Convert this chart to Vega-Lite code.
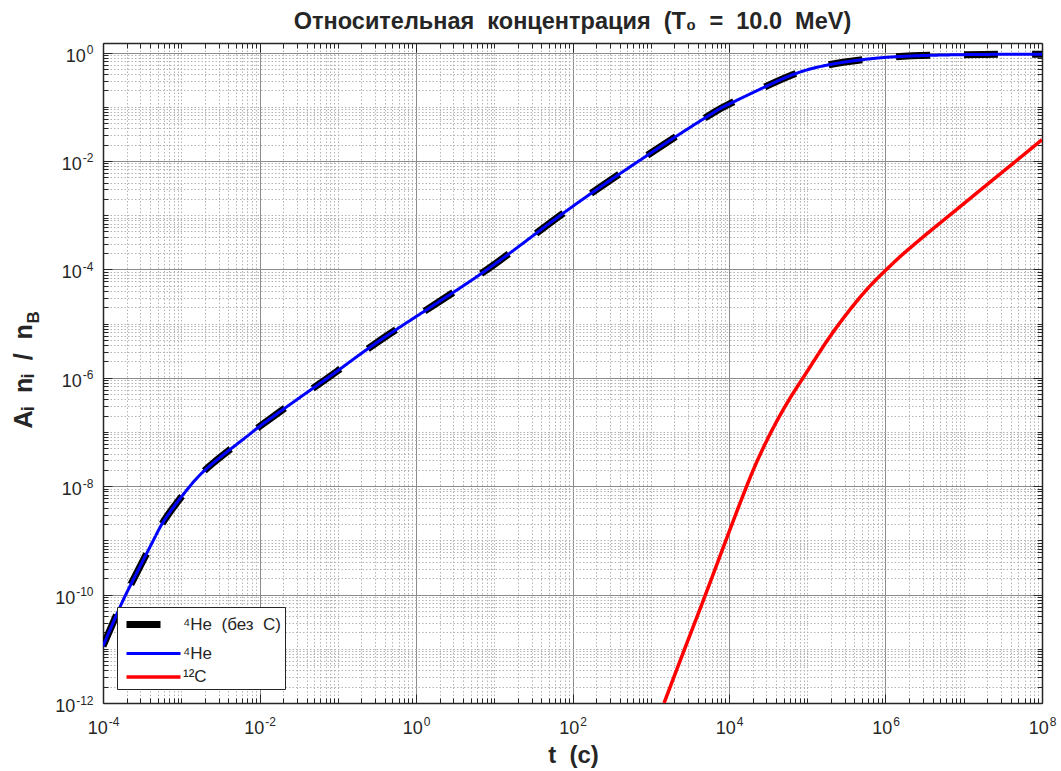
{
  "$schema": "https://vega.github.io/schema/vega-lite/v6.json",
  "width": 939,
  "height": 660,
  "autosize": {"type": "none"},
  "padding": {"left": 103, "top": 43, "right": 19, "bottom": 68},
  "title": {"text": "Относительная\u00a0\u00a0концентрация\u00a0\u00a0(T₀\u00a0\u00a0=\u00a0\u00a010.0\u00a0\u00a0MeV)", "fontSize": 23.5, "fontWeight": "bold", "font": "Liberation Sans", "color": "#262626", "anchor": "middle", "offset": 9},
  "data": {"values": [
    {"s": "⁴He (без C)", "t": 1e-4, "y": 1.12e-11},
    {"s": "⁴He (без C)", "t": 1.66e-4, "y": 6.03e-11},
    {"s": "⁴He (без C)", "t": 2.45e-4, "y": 1.91e-10},
    {"s": "⁴He (без C)", "t": 4.47e-4, "y": 1.05e-9},
    {"s": "⁴He (без C)", "t": 6.61e-4, "y": 2.82e-9},
    {"s": "⁴He (без C)", "t": 1.29e-3, "y": 1.0e-8},
    {"s": "⁴He (без C)", "t": 2.57e-3, "y": 2.69e-8},
    {"s": "⁴He (без C)", "t": 6.92e-3, "y": 8.32e-8},
    {"s": "⁴He (без C)", "t": 1.02e-2, "y": 1.29e-7},
    {"s": "⁴He (без C)", "t": 3.31e-2, "y": 4.37e-7},
    {"s": "⁴He (без C)", "t": 0.1, "y": 1.35e-6},
    {"s": "⁴He (без C)", "t": 0.316, "y": 4.47e-6},
    {"s": "⁴He (без C)", "t": 1.86, "y": 2.40e-5},
    {"s": "⁴He (без C)", "t": 10.7, "y": 1.32e-4},
    {"s": "⁴He (без C)", "t": 63.1, "y": 8.91e-4},
    {"s": "⁴He (без C)", "t": 363, "y": 5.25e-3},
    {"s": "⁴He (без C)", "t": 2140, "y": 0.0288},
    {"s": "⁴He (без C)", "t": 6310, "y": 0.0776},
    {"s": "⁴He (без C)", "t": 10000, "y": 0.112},
    {"s": "⁴He (без C)", "t": 30200, "y": 0.240},
    {"s": "⁴He (без C)", "t": 89100, "y": 0.457},
    {"s": "⁴He (без C)", "t": 288000, "y": 0.661},
    {"s": "⁴He (без C)", "t": 1000000, "y": 0.813},
    {"s": "⁴He (без C)", "t": 3980000, "y": 0.891},
    {"s": "⁴He (без C)", "t": 17800000, "y": 0.923},
    {"s": "⁴He (без C)", "t": 100000000, "y": 0.933},
    {"s": "⁴He", "t": 1e-4, "y": 1.12e-11},
    {"s": "⁴He", "t": 1.66e-4, "y": 6.03e-11},
    {"s": "⁴He", "t": 2.45e-4, "y": 1.91e-10},
    {"s": "⁴He", "t": 4.47e-4, "y": 1.05e-9},
    {"s": "⁴He", "t": 6.61e-4, "y": 2.82e-9},
    {"s": "⁴He", "t": 1.29e-3, "y": 1.0e-8},
    {"s": "⁴He", "t": 2.57e-3, "y": 2.69e-8},
    {"s": "⁴He", "t": 6.92e-3, "y": 8.32e-8},
    {"s": "⁴He", "t": 1.02e-2, "y": 1.29e-7},
    {"s": "⁴He", "t": 3.31e-2, "y": 4.37e-7},
    {"s": "⁴He", "t": 0.1, "y": 1.35e-6},
    {"s": "⁴He", "t": 0.316, "y": 4.47e-6},
    {"s": "⁴He", "t": 1.86, "y": 2.40e-5},
    {"s": "⁴He", "t": 10.7, "y": 1.32e-4},
    {"s": "⁴He", "t": 63.1, "y": 8.91e-4},
    {"s": "⁴He", "t": 363, "y": 5.25e-3},
    {"s": "⁴He", "t": 2140, "y": 0.0288},
    {"s": "⁴He", "t": 6310, "y": 0.0776},
    {"s": "⁴He", "t": 10000, "y": 0.112},
    {"s": "⁴He", "t": 30200, "y": 0.240},
    {"s": "⁴He", "t": 89100, "y": 0.457},
    {"s": "⁴He", "t": 288000, "y": 0.661},
    {"s": "⁴He", "t": 1000000, "y": 0.813},
    {"s": "⁴He", "t": 3980000, "y": 0.891},
    {"s": "⁴He", "t": 17800000, "y": 0.923},
    {"s": "⁴He", "t": 100000000, "y": 0.933},
    {"s": "¹²C", "t": 1480, "y": 1e-12},
    {"s": "¹²C", "t": 2750, "y": 1.05e-11},
    {"s": "¹²C", "t": 5010, "y": 1e-10},
    {"s": "¹²C", "t": 9120, "y": 1e-9},
    {"s": "¹²C", "t": 16600, "y": 9.55e-9},
    {"s": "¹²C", "t": 25100, "y": 3.89e-8},
    {"s": "¹²C", "t": 39800, "y": 1.48e-7},
    {"s": "¹²C", "t": 63100, "y": 4.68e-7},
    {"s": "¹²C", "t": 91200, "y": 1.07e-6},
    {"s": "¹²C", "t": 158000, "y": 3.67e-6},
    {"s": "¹²C", "t": 251000, "y": 9.55e-6},
    {"s": "¹²C", "t": 398000, "y": 2.26e-5},
    {"s": "¹²C", "t": 631000, "y": 4.90e-5},
    {"s": "¹²C", "t": 1000000, "y": 9.55e-5},
    {"s": "¹²C", "t": 1580000, "y": 1.78e-4},
    {"s": "¹²C", "t": 2510000, "y": 3.16e-4},
    {"s": "¹²C", "t": 3980000, "y": 5.50e-4},
    {"s": "¹²C", "t": 10000000, "y": 1.63e-3},
    {"s": "¹²C", "t": 25100000, "y": 4.83e-3},
    {"s": "¹²C", "t": 49000000, "y": 1.06e-2},
    {"s": "¹²C", "t": 100000000, "y": 0.0247}
  ]},
  "layer": [
    {
      "mark": {"type": "point", "opacity": 0},
      "encoding": {
        "x": {"field": "t", "type": "quantitative", "scale": {"type": "log", "domain": [1e-4, 1e8], "nice": false}, "axis": {"orient": "bottom", "title": null, "labels": false, "domain": false, "grid": true, "gridColor": "#b4b4b4", "gridDash": [1.5, 2], "gridWidth": 1, "ticks": true, "tickSize": -5, "tickColor": "#262626", "tickWidth": 1,
          "values": [2e-4,3e-4,4e-4,5e-4,6e-4,7e-4,8e-4,9e-4,1e-3,2e-3,3e-3,4e-3,5e-3,6e-3,7e-3,8e-3,9e-3,2e-2,3e-2,4e-2,5e-2,6e-2,7e-2,8e-2,9e-2,0.1,0.2,0.3,0.4,0.5,0.6,0.7,0.8,0.9,2,3,4,5,6,7,8,9,10,20,30,40,50,60,70,80,90,200,300,400,500,600,700,800,900,1000,2000,3000,4000,5000,6000,7000,8000,9000,20000,30000,40000,50000,60000,70000,80000,90000,100000,200000,300000,400000,500000,600000,700000,800000,900000,2e6,3e6,4e6,5e6,6e6,7e6,8e6,9e6,1e7,2e7,3e7,4e7,5e7,6e7,7e7,8e7,9e7]}},
        "y": {"field": "y", "type": "quantitative", "scale": {"type": "log", "domain": [1e-12, 1.5], "nice": false}, "axis": {"orient": "left", "title": null, "labels": false, "domain": false, "grid": true, "gridColor": "#b4b4b4", "gridDash": [1.5, 2], "gridWidth": 1, "ticks": true, "tickSize": -5, "tickColor": "#262626", "tickWidth": 1,
          "values": [2e-12,3e-12,4e-12,5e-12,6e-12,7e-12,8e-12,9e-12,1e-11,2e-11,3e-11,4e-11,5e-11,6e-11,7e-11,8e-11,9e-11,2e-10,3e-10,4e-10,5e-10,6e-10,7e-10,8e-10,9e-10,1e-9,2e-9,3e-9,4e-9,5e-9,6e-9,7e-9,8e-9,9e-9,2e-8,3e-8,4e-8,5e-8,6e-8,7e-8,8e-8,9e-8,1e-7,2e-7,3e-7,4e-7,5e-7,6e-7,7e-7,8e-7,9e-7,2e-6,3e-6,4e-6,5e-6,6e-6,7e-6,8e-6,9e-6,1e-5,2e-5,3e-5,4e-5,5e-5,6e-5,7e-5,8e-5,9e-5,2e-4,3e-4,4e-4,5e-4,6e-4,7e-4,8e-4,9e-4,1e-3,2e-3,3e-3,4e-3,5e-3,6e-3,7e-3,8e-3,9e-3,2e-2,3e-2,4e-2,5e-2,6e-2,7e-2,8e-2,9e-2,0.1,0.2,0.3,0.4,0.5,0.6,0.7,0.8,0.9]}}
      }
    },
    {
      "mark": {"type": "point", "opacity": 0},
      "encoding": {
        "x": {"field": "t", "type": "quantitative", "axis": {"orient": "top", "title": null, "labels": false, "domain": false, "grid": false, "ticks": true, "tickSize": -5, "tickColor": "#262626", "tickWidth": 1,
          "values": [2e-4,3e-4,4e-4,5e-4,6e-4,7e-4,8e-4,9e-4,1e-3,2e-3,3e-3,4e-3,5e-3,6e-3,7e-3,8e-3,9e-3,2e-2,3e-2,4e-2,5e-2,6e-2,7e-2,8e-2,9e-2,0.1,0.2,0.3,0.4,0.5,0.6,0.7,0.8,0.9,2,3,4,5,6,7,8,9,10,20,30,40,50,60,70,80,90,200,300,400,500,600,700,800,900,1000,2000,3000,4000,5000,6000,7000,8000,9000,20000,30000,40000,50000,60000,70000,80000,90000,100000,200000,300000,400000,500000,600000,700000,800000,900000,2e6,3e6,4e6,5e6,6e6,7e6,8e6,9e6,1e7,2e7,3e7,4e7,5e7,6e7,7e7,8e7,9e7]}},
        "y": {"field": "y", "type": "quantitative", "axis": {"orient": "right", "title": null, "labels": false, "domain": false, "grid": false, "ticks": true, "tickSize": -5, "tickColor": "#262626", "tickWidth": 1,
          "values": [2e-12,3e-12,4e-12,5e-12,6e-12,7e-12,8e-12,9e-12,1e-11,2e-11,3e-11,4e-11,5e-11,6e-11,7e-11,8e-11,9e-11,2e-10,3e-10,4e-10,5e-10,6e-10,7e-10,8e-10,9e-10,1e-9,2e-9,3e-9,4e-9,5e-9,6e-9,7e-9,8e-9,9e-9,2e-8,3e-8,4e-8,5e-8,6e-8,7e-8,8e-8,9e-8,1e-7,2e-7,3e-7,4e-7,5e-7,6e-7,7e-7,8e-7,9e-7,2e-6,3e-6,4e-6,5e-6,6e-6,7e-6,8e-6,9e-6,1e-5,2e-5,3e-5,4e-5,5e-5,6e-5,7e-5,8e-5,9e-5,2e-4,3e-4,4e-4,5e-4,6e-4,7e-4,8e-4,9e-4,1e-3,2e-3,3e-3,4e-3,5e-3,6e-3,7e-3,8e-3,9e-3,2e-2,3e-2,4e-2,5e-2,6e-2,7e-2,8e-2,9e-2,0.1,0.2,0.3,0.4,0.5,0.6,0.7,0.8,0.9]}}
      }
    },
    {
      "mark": {"type": "point", "opacity": 0},
      "encoding": {
        "x": {"field": "t", "type": "quantitative", "axis": {"orient": "bottom", "title": null, "labels": false, "domain": false, "grid": true, "gridColor": "#8c8c8c", "gridWidth": 1, "ticks": true, "tickSize": -9, "tickColor": "#262626", "tickWidth": 1, "values": [1e-4, 1e-2, 1, 100, 1e4, 1e6, 1e8]}},
        "y": {"field": "y", "type": "quantitative", "axis": {"orient": "left", "title": null, "labels": false, "domain": false, "grid": true, "gridColor": "#8c8c8c", "gridWidth": 1, "ticks": true, "tickSize": -9, "tickColor": "#262626", "tickWidth": 1, "values": [1e-12, 1e-10, 1e-8, 1e-6, 1e-4, 1e-2, 1]}}
      }
    },
    {
      "mark": {"type": "point", "opacity": 0},
      "encoding": {
        "x": {"field": "t", "type": "quantitative", "axis": {"orient": "top", "title": null, "labels": false, "domain": true, "domainColor": "#262626", "domainWidth": 1.5, "grid": false, "ticks": true, "tickSize": -9, "tickColor": "#262626", "tickWidth": 1, "values": [1e-4, 1e-2, 1, 100, 1e4, 1e6, 1e8]}},
        "y": {"field": "y", "type": "quantitative", "axis": {"orient": "right", "title": null, "labels": false, "domain": true, "domainColor": "#262626", "domainWidth": 1.5, "grid": false, "ticks": true, "tickSize": -9, "tickColor": "#262626", "tickWidth": 1, "values": [1e-12, 1e-10, 1e-8, 1e-6, 1e-4, 1e-2, 1]}}
      }
    },
    {
      "mark": {"type": "point", "opacity": 0},
      "encoding": {
        "x": {"field": "t", "type": "quantitative", "axis": {"orient": "bottom", "grid": false, "ticks": false, "domain": true, "domainColor": "#262626", "domainWidth": 1.5, "values": [1e-4, 1e-2, 1, 100, 1e4, 1e6, 1e8],
          "labelExpr": "'10'", "labelFont": "Liberation Sans", "labelFontSize": 18, "labelColor": "#262626", "labelPadding": 30, "labelBaseline": "alphabetic", "labelAlign": "center", "labelFlush": false, "labelOverlap": false,
          "labelOffset": {"condition": {"test": "datum.value < 0.5", "value": -5.85}, "value": -3.85},
          "title": "t\u00a0\u00a0(c)", "titleFont": "Liberation Sans", "titleFontSize": 24, "titleFontWeight": "bold", "titleColor": "#262626", "titleX": 470, "titleY": 59, "titleAlign": "center", "titleBaseline": "alphabetic"}},
        "y": {"field": "y", "type": "quantitative", "axis": {"orient": "left", "grid": false, "ticks": false, "domain": true, "domainColor": "#262626", "domainWidth": 1.5, "values": [1e-12, 1e-10, 1e-8, 1e-6, 1e-4, 1e-2, 1],
          "labelExpr": "'10'", "labelFont": "Liberation Sans", "labelFontSize": 18, "labelColor": "#262626", "labelBaseline": "alphabetic", "labelAlign": "right", "labelFlush": false, "labelOverlap": false,
          "labelPadding": {"condition": [{"test": "datum.value < 1e-9", "value": 28.3}, {"test": "datum.value < 0.5", "value": 21.7}], "value": 17.7},
          "labelOffset": 8.5,
          "title": "Aᵢ\u00a0\u00a0nᵢ\u00a0\u00a0/\u00a0\u00a0n", "titleFont": "Liberation Sans", "titleFontSize": 25, "titleFontWeight": "bold", "titleColor": "#262626", "titleAngle": -90, "titleAlign": "left", "titleBaseline": "alphabetic", "titleX": -72, "titleY": 385}}
      }
    },
    {
      "mark": {"type": "point", "opacity": 0},
      "encoding": {
        "x": {"field": "t", "type": "quantitative", "axis": {"orient": "bottom", "grid": false, "ticks": false, "domain": false, "title": null, "values": [1e-4, 1e-2, 1, 100, 1e4, 1e6, 1e8],
          "labelExpr": "datum.value < 1e-3 ? '-4' : datum.value < 0.1 ? '-2' : datum.value < 10 ? '0' : datum.value < 1e3 ? '2' : datum.value < 1e5 ? '4' : datum.value < 1e7 ? '6' : '8'",
          "labelFont": "Liberation Sans", "labelFontSize": 12, "labelColor": "#262626", "labelPadding": 22, "labelBaseline": "alphabetic", "labelAlign": "left", "labelFlush": false, "labelOverlap": false,
          "labelOffset": {"condition": {"test": "datum.value < 0.5", "value": 5.15}, "value": 7.15}}},
        "y": {"field": "y", "type": "quantitative", "axis": {"orient": "left", "grid": false, "ticks": false, "domain": false, "title": null, "values": [1e-12, 1e-10, 1e-8, 1e-6, 1e-4, 1e-2, 1],
          "labelExpr": "datum.value < 1e-11 ? '-12' : datum.value < 1e-9 ? '-10' : datum.value < 1e-7 ? '-8' : datum.value < 1e-5 ? '-6' : datum.value < 1e-3 ? '-4' : datum.value < 0.1 ? '-2' : '0'",
          "labelFont": "Liberation Sans", "labelFontSize": 12, "labelColor": "#262626", "labelPadding": 10, "labelBaseline": "alphabetic", "labelAlign": "right", "labelFlush": false, "labelOverlap": false,
          "labelOffset": 1}}
      }
    },
    {
      "mark": {"type": "point", "opacity": 0},
      "encoding": {
        "x": {"field": "t", "type": "quantitative", "axis": null},
        "y": {"field": "y", "type": "quantitative", "axis": {"orient": "left", "grid": false, "ticks": false, "domain": false, "labels": false,
          "title": "B", "titleFont": "Liberation Sans", "titleFontSize": 17, "titleFontWeight": "bold", "titleColor": "#262626", "titleAngle": -90, "titleAlign": "left", "titleBaseline": "alphabetic", "titleX": -65, "titleY": 280}}
      }
    },
    {
      "mark": {"type": "line", "interpolate": "natural", "strokeCap": "butt", "clip": true},
      "encoding": {
        "x": {"field": "t", "type": "quantitative", "axis": null},
        "y": {"field": "y", "type": "quantitative", "axis": null},
        "color": {"field": "s", "type": "nominal", "scale": {"domain": ["⁴He (без C)", "⁴He", "¹²C"], "range": ["#000000", "#0000ff", "#ff0000"]}, "legend": {"title": null, "labelExpr": "replace(replace(datum.label, ' ', '\u00a0\u00a0'), ' ', '\u00a0\u00a0')"}},
        "strokeWidth": {"field": "s", "type": "nominal", "scale": {"type": "ordinal", "domain": ["⁴He (без C)", "⁴He", "¹²C"], "range": [7, 3, 3.5]}, "legend": {"title": null, "labelExpr": "replace(replace(datum.label, ' ', '\u00a0\u00a0'), ' ', '\u00a0\u00a0')"}},
        "strokeDash": {"field": "s", "type": "nominal", "scale": {"domain": ["⁴He (без C)", "⁴He", "¹²C"], "range": [[34, 34], [1, 0], [1, 0]]}, "legend": {"title": null, "labelExpr": "replace(replace(datum.label, ' ', '\u00a0\u00a0'), ' ', '\u00a0\u00a0')"}}
      }
    }
  ],
  "resolve": {"axis": {"x": "independent", "y": "independent"}},
  "config": {
    "font": "Liberation Sans",
    "view": {"stroke": null},
    "legend": {"orient": "bottom-left", "offset": 14, "padding": 4, "fillColor": "#ffffff", "strokeColor": "#262626", "labelFont": "Liberation Sans", "labelFontSize": 17, "labelColor": "#262626", "labelOffset": 35, "symbolType": "M-0.8,0H4.6", "symbolSize": 400, "rowPadding": 3, "labelLimit": 300}
  }
}
